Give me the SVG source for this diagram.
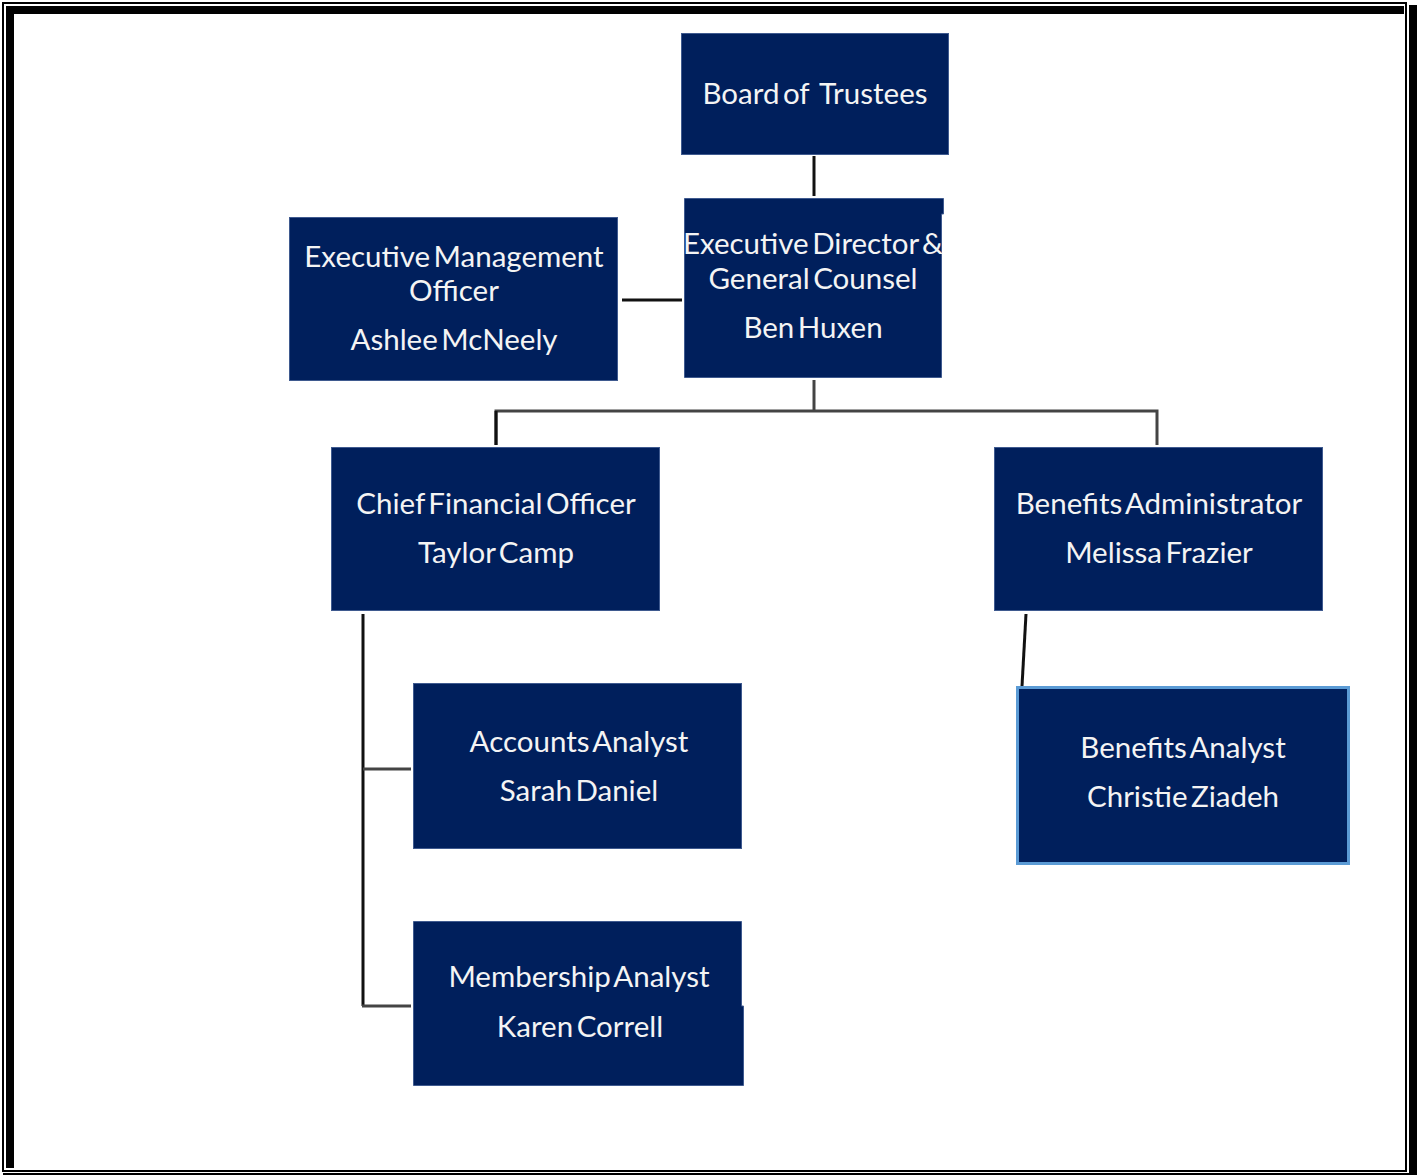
<svg xmlns="http://www.w3.org/2000/svg" width="1417" height="1175" viewBox="0 0 1417 1175">
<style>
.box{fill:#001F5C;stroke:#3F5A8F;stroke-width:1}
.t{fill:#F4F4F4;font-family:Lato,"Liberation Sans",sans-serif;font-size:29.5px;text-anchor:middle;word-spacing:-4px}
.c{fill:none;stroke:#111;stroke-width:3}
.g{fill:none;stroke:#444;stroke-width:3}
</style>
<rect width="1417" height="1175" fill="#fff"/>
<g id="frame">
<rect x="3" y="3" width="1403" height="1168" fill="none" stroke="#000" stroke-width="2"/>
<rect x="6" y="6" width="8" height="1162" fill="#000"/>
<rect x="6" y="6" width="1398" height="8" fill="#000"/>
<rect x="1409" y="5" width="8" height="1170" fill="#000"/>
<rect x="3" y="1173" width="1414" height="2" fill="#000"/>
</g>
<g id="connectors">
<line class="c" x1="814" y1="156" x2="814" y2="196"/>
<line class="c" x1="622" y1="300" x2="682" y2="300"/>
<line class="g" x1="814" y1="380" x2="814" y2="411"/>
<polyline class="g" points="496,445 496,411 1157,411 1157,445"/>
<line class="c" x1="496" y1="411" x2="496" y2="445"/>
<line class="c" x1="363" y1="614" x2="363" y2="1006"/>
<line class="g" x1="363" y1="769" x2="411" y2="769"/>
<line class="g" x1="362" y1="1006" x2="411" y2="1006"/>
<line class="c" x1="1026" y1="614" x2="1022" y2="686"/>
</g>
<g id="board">
<rect class="box" x="681.5" y="33.5" width="267" height="121"/>
<text class="t" x="815" y="104" style="white-space:pre">Board of   Trustees</text>
</g>
<g id="exec-director">
<path class="box" d="M684.5 198.5 H943.5 V214 H941.5 V377.5 H684.5 Z"/>
<text class="t" x="813" y="254">Executive Director &amp;</text>
<text class="t" x="813" y="289">General Counsel</text>
<text class="t" x="813" y="338">Ben Huxen</text>
</g>
<g id="exec-mgmt">
<rect class="box" x="289.5" y="217.5" width="328" height="163"/>
<text class="t" x="454" y="267">Executive Management</text>
<text class="t" x="454" y="301">Officer</text>
<text class="t" x="454" y="350">Ashlee McNeely</text>
</g>
<g id="cfo">
<rect class="box" x="331.5" y="447.5" width="328" height="163"/>
<text class="t" x="496" y="514">Chief Financial Officer</text>
<text class="t" x="496" y="563">Taylor Camp</text>
</g>
<g id="benefits-admin">
<rect class="box" x="994.5" y="447.5" width="328" height="163"/>
<text class="t" x="1159" y="514">Benefits Administrator</text>
<text class="t" x="1159" y="563">Melissa Frazier</text>
</g>
<g id="accounts">
<rect class="box" x="413.5" y="683.5" width="328" height="165"/>
<text class="t" x="579" y="752">Accounts Analyst</text>
<text class="t" x="579" y="801">Sarah Daniel</text>
</g>
<g id="membership">
<path class="box" d="M413.5 921.5 H741.5 V1006 H743.5 V1085.5 H413.5 Z"/>
<text class="t" x="579" y="987">Membership Analyst</text>
<text class="t" x="580" y="1037">Karen Correll</text>
</g>
<g id="benefits-analyst">
<rect x="1017.5" y="687.5" width="331" height="176" fill="#001F5C" stroke="#5B9BD5" stroke-width="3"/>
<text class="t" x="1183" y="758">Benefits Analyst</text>
<text class="t" x="1183" y="807">Christie Ziadeh</text>
</g>
</svg>
